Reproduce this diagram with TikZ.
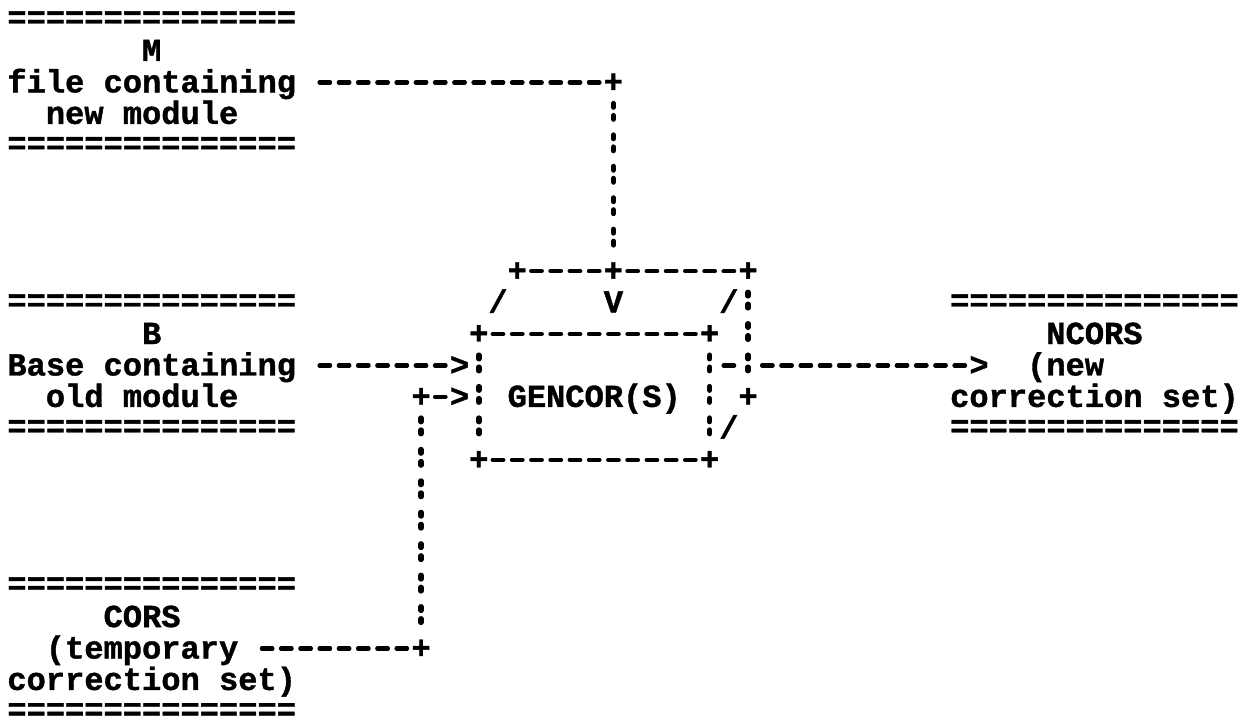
\documentclass[tikz,border=0pt]{standalone}
\usepackage{fontspec}
\newfontfamily\asciifont{Liberation Mono}[WordSpace={1,0,0},BoldFeatures={FakeBold=1.2}]
\newcommand\X[1]{(17+19.24*(#1))}
\newcommand\Y[1]{(19+31.45*(#1))}
\tikzset{
  glyph/.style={font=\asciifont\bfseries\fontsize{32.07}{32}\selectfont, inner sep=0pt, outer sep=0pt, anchor=base, text=black},
  lbl/.style={glyph, anchor=base west},
  hdash/.style={line width=4.3pt, line cap=round, dash pattern=on 10.5pt off 8.74pt, black},
  vdash/.style={line width=5.5pt, line cap=round, dash pattern=on 3.5pt off 8.5pt on 3.5pt off 15.95pt, black}
}
% text string starting at column #2, row #3
\newcommand\lbl[4]{\node[lbl] (#1) at ({\X{#2}-9.62},{\Y{#3}+10.5}) {#4};}
% row of = signs
\newcommand\eqrow[3]{\node[lbl] (#1) at ({\X{#2}-9.62},{\Y{#3}+9}) {===============};}
% single character at column #2, row #3
\newcommand\chr[4]{\node[glyph] (#1) at ({\X{#2}},{\Y{#3}+10.5}) {#4};}
% horizontal dash run, columns #2..#3 in row #4
\newcommand\hrun[4]{\coordinate (#1s) at ({\X{#2}-5.25},{\Y{#4}+0.5});
  \coordinate (#1e) at ({\X{#3}+5.25},{\Y{#4}+0.5});
  \draw[hdash] (#1s) -- (#1e);}
% vertical colon run, column #2, rows #3..#4
\newcommand\vrun[4]{\coordinate (#1s) at ({\X{#2}},{\Y{#3}-9.75});
  \coordinate (#1e) at ({\X{#2}},{\Y{#4}+5.75});
  \draw[vdash] (#1s) -- (#1e);}
\begin{document}
\begin{tikzpicture}[x=1pt,y=-1pt]
\fill[white] (0,0) rectangle (1247,726);
\useasboundingbox (0,0) rectangle (1247,726);
% ---- M : file containing new module
\eqrow{mtop}{0}{0}
\lbl{mname}{7}{1}{M}
\lbl{mlabA}{0}{2}{file containing}
\hrun{mh}{16}{30}{2}
\chr{mjoin}{31}{2}{+}
\lbl{mlabB}{2}{3}{new module}
\eqrow{mbot}{0}{4}
\vrun{mv}{31}{3}{7}
% ---- GENCOR(S) box, top face
\chr{gtl}{26}{8}{+}
\hrun{gt1}{27}{30}{8}
\chr{gtm}{31}{8}{+}
\hrun{gt2}{32}{37}{8}
\chr{gtr}{38}{8}{+}
\chr{gsl1}{25}{9}{/}
\chr{gv}{31}{9}{V}
\chr{gsl2}{37}{9}{/}
\vrun{gside}{38}{9}{11}
\chr{gsideend}{38}{12}{+}
\chr{gsl3}{37}{13}{/}
% front face
\chr{gfl}{24}{10}{+}
\hrun{gf}{25}{35}{10}
\chr{gfr}{36}{10}{+}
\vrun{gleft}{24}{11}{13}
\vrun{gright}{36}{11}{13}
\lbl{gname}{26}{12}{GENCOR(S)}
\chr{gbl}{24}{14}{+}
\hrun{gb}{25}{35}{14}
\chr{gbr}{36}{14}{+}
% ---- B : base containing old module
\eqrow{btop}{0}{9}
\lbl{bname}{7}{10}{B}
\lbl{blabA}{0}{11}{Base containing}
\hrun{bh}{16}{22}{11}
\chr{barr}{23}{11}{>}
\lbl{blabB}{2}{12}{old module}
\eqrow{bbot}{0}{13}
% ---- output to NCORS
\hrun{go1}{37}{37}{11}
\hrun{go2}{39}{49}{11}
\chr{narr}{50}{11}{>}
\eqrow{ntop}{49}{9}
\lbl{nname}{54}{10}{NCORS}
\lbl{nlabA}{53}{11}{(new}
\lbl{nlabB}{49}{12}{correction set)}
\eqrow{nbot}{49}{13}
% ---- CORS : temporary correction set
\chr{cjoin}{21}{12}{+}
\hrun{ch1}{22}{22}{12}
\chr{carr}{23}{12}{>}
\vrun{cv}{21}{13}{19}
\eqrow{ctop}{0}{18}
\lbl{cname}{5}{19}{CORS}
\lbl{clabA}{2}{20}{(temporary}
\hrun{ch2}{13}{20}{20}
\chr{ccorner}{21}{20}{+}
\lbl{clabB}{0}{21}{correction set)}
\eqrow{cbot}{0}{22}
\end{tikzpicture}
\end{document}
